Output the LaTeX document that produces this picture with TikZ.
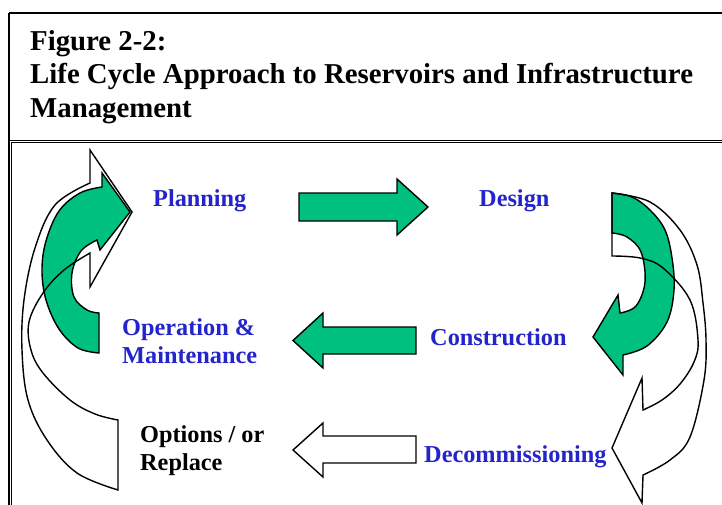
\documentclass[tikz,border=0pt]{standalone}
\usepackage{fontspec}
\setmainfont{Liberation Serif}
\definecolor{cyclegreen}{RGB}{0,192,128}
\definecolor{labelblue}{RGB}{36,36,204}
% a label set on two lines, with the baseline of its first line
\newcommand\stacklines[2]{\vtop{\baselineskip=28pt\hbox{#1}\hbox{#2}}}
\begin{document}
\begin{tikzpicture}[x=1pt,y=-1pt,
  frame/.style={draw=black,line width=1.3pt},
  edge/.style={draw=black,line width=1.4pt,line join=miter,miter limit=10},
  greenshape/.style={edge,fill=cyclegreen},
  titletext/.style={inner sep=0pt,anchor=base west,font=\fontsize{28.8}{33.5}\selectfont\bfseries},
  stage/.style={inner sep=0pt,anchor=base west,text=labelblue,font=\fontsize{24.3}{28}\selectfont\bfseries},
  option/.style={stage,text=black},
  arc/.style={smooth,tension=0.6}]

\fill[white] (0,0) rectangle (722,505);
\useasboundingbox (0,0) rectangle (722,505);
\clip (0,0) rectangle (722,505);

% title box and diagram box
\draw[frame] (9,13) -- (740,13);
\draw[frame] (9,13) -- (9,520);
\draw[frame] (9,140.2) -- (740,140.2);
\draw[frame] (11.8,142.4) -- (740,142.4);
\draw[frame] (11.8,142.4) -- (11.8,520);

% title
\node[titletext] (title1) at (30,50.5) {Figure 2-2:};
\node[titletext] (title2) at (30,84) {Life Cycle Approach to Reservoirs and Infrastructure};
\node[titletext] (title3) at (30,117.5) {Management};

% stage labels
\node[stage] (planning) at (153,206) {Planning};
\node[stage] (design) at (479,206) {Design};
\node[stage] (operation) at (122,335) {\stacklines{Operation \&}{Maintenance}};
\node[stage] (construction) at (430,345) {Construction};
\node[option] (options) at (140,442) {\stacklines{Options / or}{Replace}};
\node[stage] (decommissioning) at (424,462) {Decommissioning};

% straight block arrows
\draw[greenshape] (299,193) -- (397,193) -- (397,179) -- (428,207) -- (397,235)
  -- (397,221) -- (299,221) -- cycle;
\draw[greenshape] (416,327) -- (323,327) -- (323,313) -- (293,340.5) -- (323,368)
  -- (323,354) -- (416,354) -- cycle;
\draw[edge,fill=white] (416,436) -- (323,436) -- (323,423) -- (293,450) -- (323,477)
  -- (323,463) -- (416,463) -- cycle;

% left side: large outlined return arrow behind a green curved arrow
\path[save path=\leftwhite] (90,150) -- (132,212) -- (90,287) -- (90,253)
  -- plot[arc] coordinates {(90,253) (64,270) (43,293) (29,322) (31,350) (43,373) (70,400) (95,414) (118,420)}
  -- (118,490)
  -- plot[arc] coordinates {(118,490) (77,473) (47,440) (28,400) (22,350) (24,300) (35,248) (55,205) (90,183)}
  -- cycle;
\fill[white, use path=\leftwhite];
\draw[greenshape] (99,313) -- (99,353)
  -- plot[arc] coordinates {(99,353) (78,348) (59,329) (46,300) (42,270) (46,241) (59,211) (80,193) (102,187)}
  -- (102,173) -- (130,212) -- (100,250) -- (97,240)
  -- plot[arc] coordinates {(97,240) (81,251) (72,273) (74,297) (87,310) (99,313)}
  -- cycle;
\draw[edge, use path=\leftwhite];

% right side: large outlined arrow behind a green curved arrow
\path[save path=\rightwhite] (612,256) -- (612,193)
  -- plot[arc] coordinates {(612,193) (650,202) (680,230) (697,265) (703,303) (706,340) (704,380) (690,437) (670,460) (643,475)}
  -- (642,503) -- (612,448) -- (642,378) -- (643,410)
  -- plot[arc] coordinates {(643,410) (662,400) (680,384) (694,362) (698,340) (690,300) (663,268) (640,258) (612,256)}
  -- cycle;
\fill[white, use path=\rightwhite];
\draw[greenshape] (612,233) -- (612,193)
  -- plot[arc] coordinates {(612,193) (632,197) (650,210) (665,230) (672,258) (674,290) (667,322) (647,346) (623,355)}
  -- (623,375) -- (593,337) -- (618,295) -- (620,313)
  -- plot[arc] coordinates {(620,313) (636,306) (645,282) (641,252) (627,237) (612,233)}
  -- cycle;
\draw[edge, use path=\rightwhite];
\end{tikzpicture}
\end{document}
